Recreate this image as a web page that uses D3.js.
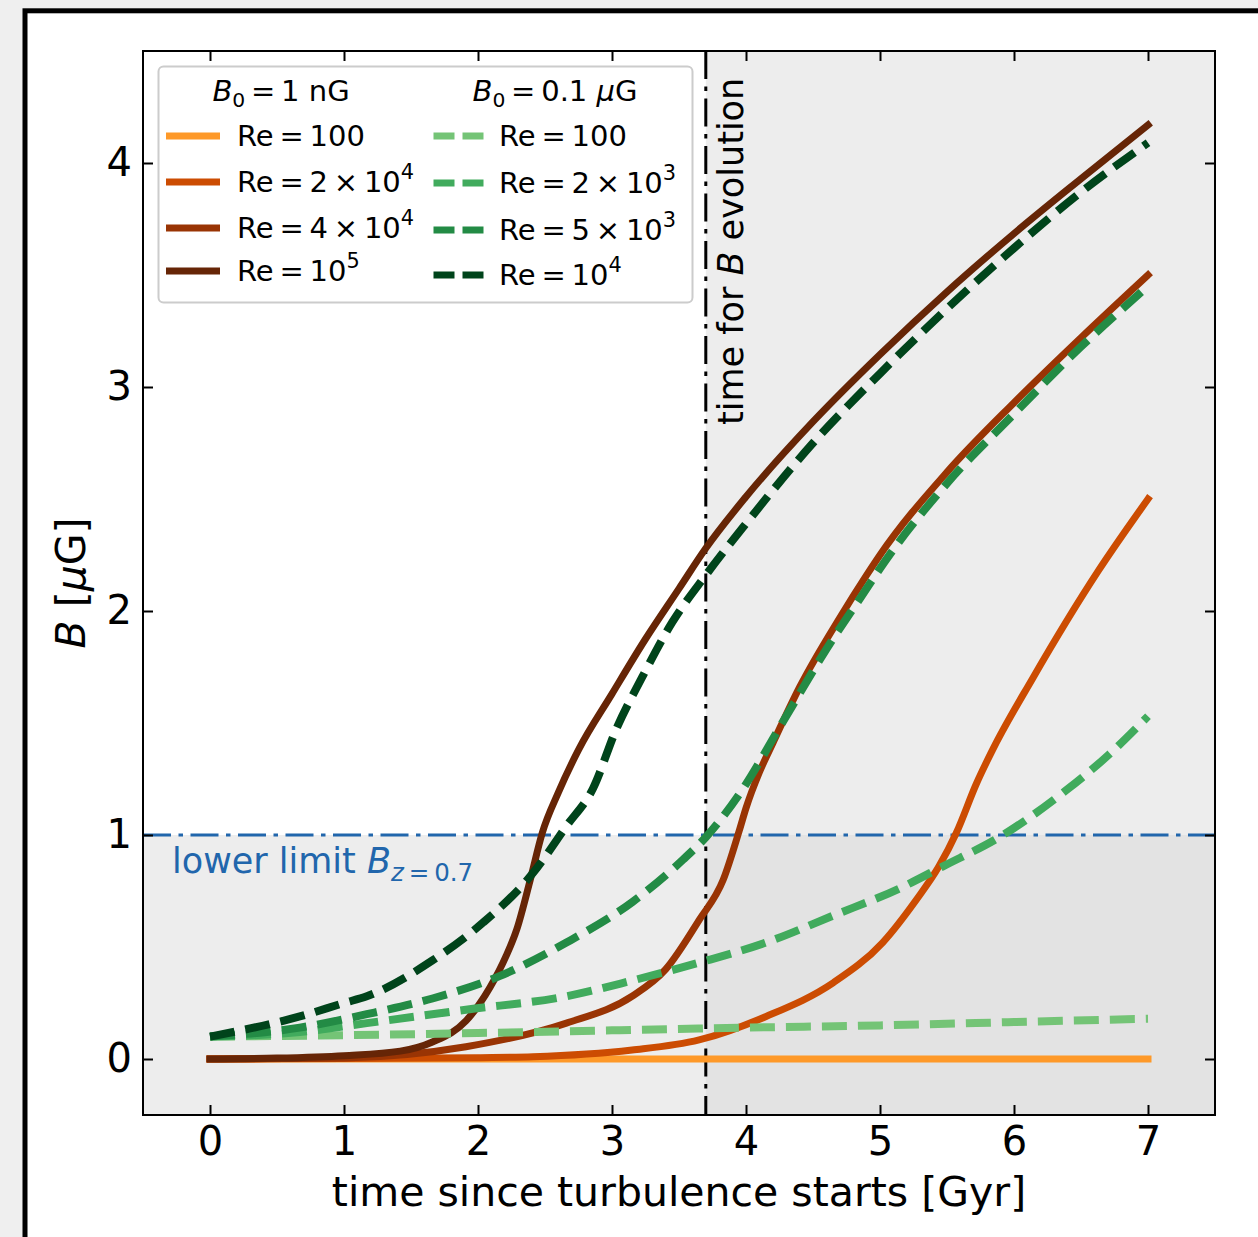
<!DOCTYPE html>
<html>
<head>
<meta charset="utf-8">
<script src="https://cdn.jsdelivr.net/npm/d3@7"></script>
<style>
  body { margin: 0; background: #efefef; }
  svg { display: block; font-family: "DejaVu Sans", sans-serif; }
</style>
</head>
<body>
<svg id="chart" width="1258" height="1237"></svg>
<script>
// ---- data (time in Gyr, B in muG) ----
// B0 = 1 nG, solid lines
const t_1nG_re100 = [0, 1, 2, 3, 4, 5, 6, 7];
const b_1nG_re100 = [0, 0, 0, 0, 0, 0, 0, 0];

const t_1nG_re2e4 = [0, 1, 2, 2.41, 3.15, 3.65, 4.15, 4.65, 5.02, 5.27, 5.44, 5.57, 5.72, 5.84, 6.14, 6.63, 7.0];
const b_1nG_re2e4 = [0, 0.002, 0.006, 0.01, 0.04, 0.085, 0.19, 0.34, 0.52, 0.71, 0.86, 1.01, 1.23, 1.38, 1.70, 2.18, 2.50];

const t_1nG_re4e4 = [0, 1, 1.91, 2.66, 3.15, 3.40, 3.65, 3.83, 3.95, 4.0, 4.1, 4.2, 4.4, 4.7, 4.9, 5.0, 5.5, 6.0, 6.5, 7.0];
const b_1nG_re4e4 = [0, 0.005, 0.055, 0.16, 0.28, 0.40, 0.62, 0.80, 1.02, 1.12, 1.28, 1.41, 1.66, 1.97, 2.16, 2.25, 2.62, 2.93, 3.22, 3.50];

const t_1nG_re1e5 = [0, 0.5, 1.0, 1.42, 1.66, 1.91, 2.09, 2.21, 2.29, 2.39, 2.48, 2.6, 2.75, 3.0, 3.25, 3.5, 3.7, 4.0, 4.5, 5.0, 5.5, 6.0, 6.5, 7.0];
const b_1nG_re1e5 = [0, 0.004, 0.015, 0.035, 0.076, 0.17, 0.32, 0.46, 0.58, 0.80, 1.01, 1.19, 1.38, 1.63, 1.875, 2.10, 2.28, 2.51, 2.845, 3.145, 3.425, 3.685, 3.93, 4.17];

// B0 = 0.1 muG, dashed lines
const t_01uG_re100 = [0, 1, 2, 3, 4, 5, 6, 7];
const b_01uG_re100 = [0.1, 0.106, 0.116, 0.128, 0.14, 0.15, 0.165, 0.18];

const t_01uG_re2e3 = [0, 0.67, 1.17, 1.91, 2.66, 3.15, 3.65, 4.15, 4.65, 5.14, 5.47, 5.89, 6.39, 6.71, 7.0];
const b_01uG_re2e3 = [0.1, 0.12, 0.16, 0.22, 0.28, 0.35, 0.43, 0.52, 0.64, 0.76, 0.86, 0.99, 1.20, 1.36, 1.53];

const t_01uG_re5e3 = [0, 0.67, 1.17, 1.66, 2.16, 2.66, 3.15, 3.53, 3.7, 3.97, 4.27, 4.6, 4.9, 5.0, 5.5, 6.0, 6.5, 7.0];
const b_01uG_re5e3 = [0.1, 0.14, 0.20, 0.27, 0.37, 0.52, 0.70, 0.89, 0.99, 1.20, 1.50, 1.83, 2.10, 2.19, 2.57, 2.88, 3.18, 3.45];

const t_01uG_re1e4 = [0, 0.67, 1.0, 1.17, 1.66, 2.04, 2.41, 2.66, 2.86, 3.03, 3.23, 3.45, 3.7, 4.0, 4.5, 5.0, 5.5, 6.0, 6.5, 7.0];
const b_01uG_re1e4 = [0.1, 0.19, 0.25, 0.28, 0.44, 0.61, 0.83, 1.04, 1.21, 1.47, 1.71, 1.95, 2.16, 2.39, 2.75, 3.06, 3.35, 3.62, 3.87, 4.09];

const xTicks = [0, 1, 2, 3, 4, 5, 6, 7];
const yTicks = [0, 1, 2, 3, 4];
const tEvolve = 3.7;      // time for B evolution
const bLowerLimit = 1.0;  // lower limit B at z = 0.7

const solidColors = ["#fe9929", "#cc4c02", "#993404", "#662506"];
const dashColors = ["#74c476", "#41ab5d", "#238b45", "#00441b"];

const solidSeries = [
  { t: t_1nG_re100, b: b_1nG_re100, label: ["100", null] },
  { t: t_1nG_re2e4, b: b_1nG_re2e4, label: ["2 × 10", "4"] },
  { t: t_1nG_re4e4, b: b_1nG_re4e4, label: ["4 × 10", "4"] },
  { t: t_1nG_re1e5, b: b_1nG_re1e5, label: ["10", "5"] },
];
const dashSeries = [
  { t: t_01uG_re100, b: b_01uG_re100, label: ["100", null] },
  { t: t_01uG_re2e3, b: b_01uG_re2e3, label: ["2 × 10", "3"] },
  { t: t_01uG_re5e3, b: b_01uG_re5e3, label: ["5 × 10", "3"] },
  { t: t_01uG_re1e4, b: b_01uG_re1e4, label: ["10", "4"] },
];

// ---- layout ----
const svg = d3.select("#chart");
const x = d3.scaleLinear().domain([-0.5, 7.5]).range([143, 1215]);
const y = d3.scaleLinear().domain([-0.25, 4.5]).range([1115, 51]);

// outer frame
svg.append("rect")
  .attr("x", 25).attr("y", 10.8)
  .attr("width", 1400).attr("height", 1400)
  .attr("fill", "#fff").attr("stroke", "#000").attr("stroke-width", 5);

const g = svg.append("g");

// shaded spans
g.append("rect")
  .attr("x", x(tEvolve)).attr("y", y(4.5))
  .attr("width", x(7.5) - x(tEvolve)).attr("height", y(-0.25) - y(4.5))
  .attr("fill", "#ededed");
g.append("rect")
  .attr("x", x(-0.5)).attr("y", y(bLowerLimit))
  .attr("width", x(7.5) - x(-0.5)).attr("height", y(-0.25) - y(bLowerLimit))
  .attr("fill", "#ededed");
g.append("rect")
  .attr("x", x(tEvolve)).attr("y", y(bLowerLimit))
  .attr("width", x(7.5) - x(tEvolve)).attr("height", y(-0.25) - y(bLowerLimit))
  .attr("fill", "#e3e3e3");

// reference lines
const dashdot = "28,7.5,4.5,7.5";
g.append("line")
  .attr("x1", x(-0.5)).attr("x2", x(7.5))
  .attr("y1", y(bLowerLimit)).attr("y2", y(bLowerLimit))
  .attr("stroke", "#2166ac").attr("stroke-width", 3)
  .attr("stroke-dasharray", dashdot);
g.append("line")
  .attr("x1", x(tEvolve)).attr("x2", x(tEvolve))
  .attr("y1", y(4.5)).attr("y2", y(-0.25))
  .attr("stroke", "#000").attr("stroke-width", 3)
  .attr("stroke-dasharray", dashdot);

// curves
const line = d3.line()
  .x(d => x(d[0]))
  .y(d => y(d[1]))
  .curve(d3.curveMonotoneX);

solidSeries.forEach((s, i) => {
  g.append("path")
    .datum(d3.zip(s.t, s.b))
    .attr("d", line)
    .attr("fill", "none")
    .attr("stroke", solidColors[i])
    .attr("stroke-width", 7)
    .attr("stroke-linecap", "square")
    .attr("stroke-linejoin", "round");
});
dashSeries.forEach((s, i) => {
  g.append("path")
    .datum(d3.zip(s.t, s.b))
    .attr("d", line)
    .attr("fill", "none")
    .attr("stroke", dashColors[i])
    .attr("stroke-width", 8)
    .attr("stroke-dasharray", "25,11")
    .attr("stroke-linecap", "butt")
    .attr("stroke-linejoin", "round");
});

// annotations
const ann = g.append("text")
  .attr("x", 172).attr("y", 873)
  .attr("fill", "#2166ac").attr("font-size", 35);
ann.append("tspan").text("lower limit ");
ann.append("tspan").attr("font-style", "italic").text("B");
ann.append("tspan").attr("font-size", 24.5).attr("font-style", "italic").attr("dy", 8).text("z");
ann.append("tspan").attr("font-size", 24.5).text("\u2009=\u20090.7");

const vt = g.append("text")
  .attr("transform", `translate(743,${425}) rotate(-90)`)
  .attr("font-size", 35).attr("fill", "#000");
vt.append("tspan").text("time for ");
vt.append("tspan").attr("font-style", "italic").text("B");
vt.append("tspan").text(" evolution");

// axes
const axFont = 40;
function styleAxis(sel) {
  sel.select(".domain").remove();
  sel.selectAll(".tick line").attr("stroke", "#000").attr("stroke-width", 2);
  sel.selectAll(".tick text").attr("font-size", axFont).attr("fill", "#000")
    .attr("font-family", "DejaVu Sans, sans-serif");
}
svg.append("g").attr("transform", `translate(0,${y(-0.25)})`)
  .call(d3.axisBottom(x).tickValues(xTicks).tickSize(-10).tickPadding(12).tickFormat(d3.format("d")))
  .call(styleAxis);
svg.append("g").attr("transform", `translate(0,${y(4.5)})`)
  .call(d3.axisTop(x).tickValues(xTicks).tickSize(-10).tickFormat(""))
  .call(styleAxis);
svg.append("g").attr("transform", `translate(${x(-0.5)},0)`)
  .call(d3.axisLeft(y).tickValues(yTicks).tickSize(-10).tickPadding(11).tickFormat(d3.format("d")))
  .call(styleAxis);
svg.append("g").attr("transform", `translate(${x(7.5)},0)`)
  .call(d3.axisRight(y).tickValues(yTicks).tickSize(-10).tickFormat(""))
  .call(styleAxis);

// spines
svg.append("rect")
  .attr("x", x(-0.5)).attr("y", y(4.5))
  .attr("width", x(7.5) - x(-0.5)).attr("height", y(-0.25) - y(4.5))
  .attr("fill", "none").attr("stroke", "#000").attr("stroke-width", 2);

// axis labels
svg.append("text")
  .attr("x", 679).attr("y", 1206)
  .attr("text-anchor", "middle").attr("font-size", 41)
  .text("time since turbulence starts [Gyr]");
const yl = svg.append("text")
  .attr("transform", `translate(85,${(y(-0.25) + y(4.5)) / 2}) rotate(-90)`)
  .attr("text-anchor", "middle").attr("font-size", 41);
yl.append("tspan").attr("font-style", "italic").text("B");
yl.append("tspan").text(" [");
yl.append("tspan").attr("font-style", "italic").text("μ");
yl.append("tspan").text("G]");

// legend
const lg = svg.append("g");
lg.append("rect")
  .attr("x", 158.5).attr("y", 66.5).attr("width", 534).attr("height", 236)
  .attr("rx", 5).attr("fill", "#fff").attr("fill-opacity", 0.8)
  .attr("stroke", "#cccccc").attr("stroke-width", 2);

const lgFont = 29;
function header(xc, yb, value, muUnit) {
  const tx = lg.append("text").attr("x", xc).attr("y", yb)
    .attr("text-anchor", "middle").attr("font-size", lgFont);
  tx.append("tspan").attr("font-style", "italic").text("B");
  tx.append("tspan").attr("font-size", lgFont * 0.7).attr("dy", 6).text("0");
  tx.append("tspan").attr("dy", -6).text("\u2009=\u2009" + value + " ");
  if (muUnit) tx.append("tspan").attr("font-style", "italic").text("μ");
  tx.append("tspan").text(muUnit ? "G" : "nG");
}
header(281, 101, "1", false);
header(555, 101, "0.1", true);

function entry(tx0, yb, lab) {
  const tx = lg.append("text").attr("x", tx0).attr("y", yb).attr("font-size", lgFont);
  tx.append("tspan").text("Re\u2009=\u2009" + lab[0].replace(" × ", "\u2009×\u2009"));
  if (lab[1]) tx.append("tspan").attr("font-size", lgFont * 0.72).attr("dy", -13).text(lab[1]);
}
const col1Base = [146, 192, 238, 281];
const col2Base = [146, 193, 240, 285];
solidSeries.forEach((s, i) => {
  const yb = col1Base[i];
  lg.append("line").attr("x1", 169.5).attr("x2", 216.5)
    .attr("y1", yb - 10).attr("y2", yb - 10)
    .attr("stroke", solidColors[i]).attr("stroke-width", 7).attr("stroke-linecap", "square");
  entry(237, yb, s.label);
});
dashSeries.forEach((s, i) => {
  const yb = col2Base[i];
  lg.append("line").attr("x1", 433.5).attr("x2", 483.5)
    .attr("y1", yb - 10).attr("y2", yb - 10)
    .attr("stroke", dashColors[i]).attr("stroke-width", 7)
    .attr("stroke-dasharray", "21,8").attr("stroke-linecap", "butt");
  entry(499, yb, s.label);
});
</script>
</body>
</html>
